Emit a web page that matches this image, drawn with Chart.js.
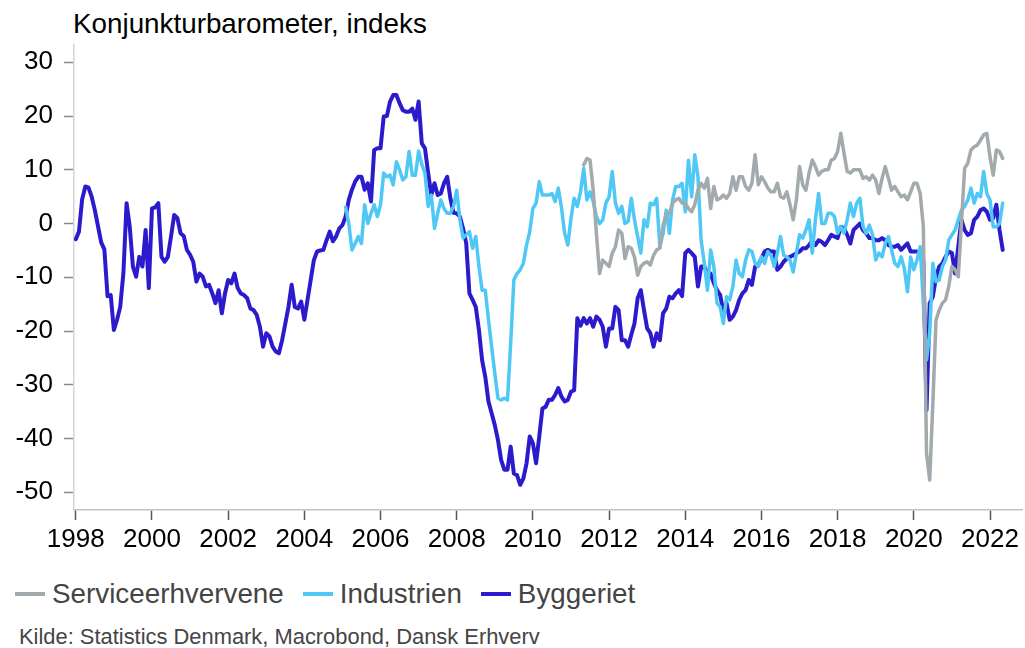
<!DOCTYPE html>
<html>
<head>
<meta charset="utf-8">
<script src="https://cdn.jsdelivr.net/npm/chart.js@4"></script>
<style>
  html, body { margin: 0; padding: 0; background: #fff; }
  body { width: 1025px; height: 648px; position: relative; overflow: hidden; font-family: "Liberation Sans", Arial, sans-serif; }
  #chartBox { position: absolute; left: 0; top: 0; width: 1025px; height: 560px; }
  #title { position: absolute; left: 73px; top: 10px; font-size: 27.8px; line-height: 1; color: #000; white-space: nowrap; }
  #legend { position: absolute; left: 15px; top: 580px; display: flex; align-items: center; font-size: 27.8px; line-height: 1; color: #444; white-space: nowrap; }
  .item { display: flex; align-items: center; margin-right: 19px; }
  .swatch { width: 30px; height: 4px; margin-right: 7px; }
  #source { position: absolute; left: 19px; top: 626px; font-size: 21.9px; line-height: 1; color: #444; white-space: nowrap; }
</style>
</head>
<body>
<div id="title">Konjunkturbarometer, indeks</div>
<div id="chartBox"><canvas id="barometer" width="1025" height="560"></canvas></div>
<div id="legend"></div>
<div id="source">Kilde: Statistics Denmark, Macrobond, Dansk Erhverv</div>

<script>
// monthly series, first value = first month given by the *Start index (months after Jan 1998)
const startYear = 1998;
const seriesNames = ["Serviceerhvervene", "Industrien", "Byggeriet"];
const seriesColors = ["#a3aaad", "#4fc8f5", "#2b1bcc"];

const serviceStart = 160; // May 2011
const serviceValues = [
    10.9, 12.1, 11.8, 6.2, -1.8, -9.3, -6.8, -7.4,
    -8.0, -5.5, -4.3, -1.2, -1.8, -6.5, -4.3, -4.6, -6.2, -9.6, -8.0, -7.4,
    -7.1, -7.7, -5.9, -4.9, -4.6, -0.3, 1.6, 1.9, 3.8, 4.4, 4.7, 3.8,
    3.8, 2.8, 2.2, 3.5, 6.2, 7.5, 6.6, 8.4, 2.8, 6.9, 4.4, 4.7,
    5.3, 4.7, 5.6, 8.7, 6.2, 8.7, 8.7, 6.9, 6.2, 7.5, 12.8, 7.2,
    8.7, 7.8, 6.6, 5.9, 5.9, 7.5, 5.0, 4.7, 5.9, 3.5, 0.7, 4.4,
    10.6, 7.2, 6.2, 9.4, 11.8, 10.6, 9.0, 9.7, 10.0, 10.0, 11.8, 12.1,
    13.4, 16.8, 13.1, 9.7, 9.4, 10.0, 10.0, 10.0, 8.4, 8.7, 8.1, 9.0,
    8.1, 5.6, 8.4, 10.6, 8.4, 6.2, 6.9, 5.9, 5.0, 5.3, 4.4, 5.9,
    7.5, 7.5, 5.6, -0.6, -42.7, -47.7, -33.4, -17.9, -16.1, -14.8, -14.2, -11.7,
    -8.0, -8.6, -9.9, 0.0, 10.3, 11.2, 13.7, 14.3, 14.6, 15.5, 16.5, 16.8,
    12.4, 9.0, 13.7, 13.4, 12.1
];

const industryStart = 85; // Feb 2005
const industryValues = [
    3.1, 0.0, -4.9, -3.7, -2.4, -3.7, 3.5, 0.0, 1.9, 3.5, 1.3,
    3.5, 9.4, 8.7, 9.0, 7.2, 11.5, 10.0, 8.1, 8.7, 13.4, 9.0, 9.0,
    13.5, 11.0, 9.4, 3.2, 5.3, -0.9, 1.9, 4.4, 2.8, 1.9, 1.9, 3.2,
    6.2, 0.7, -2.7, -2.1, -1.5, -4.6, -2.4, -8.0, -12.4, -12.4, -17.9, -22.9,
    -27.9, -32.5, -32.8, -32.5, -32.8, -22.3, -10.5, -9.3, -8.6, -7.4, -4.0, -1.5,
    2.8, 3.8, 7.8, 5.3, 5.3, 5.3, 5.6, 4.1, 6.6, 3.0, -1.8, -4.0,
    1.0, 4.7, 3.2, 5.9, 10.3, 4.4, 5.9, 4.1, 1.3, 0.0, 0.7, 3.8,
    5.0, 9.7, 3.8, 1.9, 3.2, 0.0, 0.4, 4.7, 0.7, -2.4, -5.5, 0.7,
    -0.6, 3.8, 3.5, 4.7, -4.3, -1.8, 2.5, -1.8, 4.4, 6.9, 6.9, 7.5,
    2.2, 11.8, 5.0, 12.8, 8.7, -3.1, -7.4, -12.4, -4.9, -8.0, -14.8, -15.5,
    -18.6, -13.6, -14.2, -11.7, -6.8, -9.3, -9.9, -6.8, -4.9, -5.2, -7.4, -8.0,
    -6.2, -7.4, -5.2, -5.9, -8.0, -5.5, -2.4, -5.9, -6.2, -6.8, -9.0, -5.5,
    -2.1, -2.7, -1.2, 0.7, -5.5, 0.7, 5.6, 0.0, 0.0, 1.9, 1.9, 1.3,
    -1.8, -0.6, -1.8, 0.7, 3.8, 1.3, 3.8, 4.7, -0.6, -1.8, -0.3, -2.1,
    -6.8, -5.5, -6.2, -3.7, -2.4, -4.9, -7.4, -8.0, -6.2, -8.3, -12.7, -6.2,
    -8.6, -6.8, -4.3, -14.8, -25.4, -20.4, -7.4, -10.8, -10.5, -8.0, -6.8, -3.1,
    -2.1, -1.2, 0.7, 2.5, 3.2, 4.4, 6.6, 3.8, 5.6, 5.0, 9.7, 5.6,
    4.4, -0.6, -0.6, 0.0, 3.8
];

const constructionStart = 0; // Jan 1998
const constructionValues = [
    -2.9, -1.5, 4.5, 6.9, 6.7, 5.0, 2.5, -0.5, -3.5, -4.8, -13.5, -13.3,
    -19.8, -17.9, -15.5, -9.2, 3.8, -0.6, -8.0, -9.9, -6.2, -8.0, -1.2, -12.0,
    2.8, 3.0, 3.8, -6.2, -7.1, -6.2, -2.4, 1.6, 1.0, -1.8, -2.3, -4.9,
    -5.8, -7.1, -10.8, -9.3, -9.9, -11.7, -11.4, -13.0, -14.8, -12.4, -16.7, -13.0,
    -10.5, -11.1, -9.3, -12.0, -13.0, -13.3, -13.9, -15.8, -16.1, -17.0, -19.2, -22.9,
    -20.4, -21.0, -22.9, -23.8, -24.1, -21.7, -18.6, -15.5, -11.4, -15.5, -15.8, -14.5,
    -17.9, -14.2, -10.5, -6.8, -5.2, -5.0, -4.9, -3.1, -1.5, -3.3, -2.4, -0.9,
    -0.3, 1.3, 4.4, 6.3, 7.8, 8.7, 8.7, 6.3, 7.5, 4.1, 13.7, 14.0,
    14.0, 19.9, 20.0, 22.7, 23.9, 23.9, 22.4, 21.1, 20.8, 20.8, 21.4, 19.3,
    22.7, 14.9, 14.0, 9.4, 5.3, 7.5, 5.3, 5.6, 7.5, 8.7, 4.7, 2.0,
    1.9, 1.3, -0.9, -3.7, -13.0, -14.2, -15.5, -19.8, -25.4, -28.5, -33.1, -35.3,
    -37.5, -40.3, -44.0, -45.8, -45.8, -41.5, -46.5, -46.8, -48.6, -47.4, -44.6, -39.6,
    -40.9, -44.6, -39.6, -34.4, -34.1, -32.8, -32.8, -31.9, -30.6, -32.2, -33.1, -32.8,
    -31.3, -31.0, -17.6, -19.0, -17.6, -18.6, -17.6, -19.2, -17.3, -17.9, -19.2, -22.9,
    -19.5, -19.5, -15.5, -16.1, -21.7, -21.7, -22.9, -20.7, -18.6, -13.9, -12.4, -16.1,
    -19.5, -20.4, -22.9, -20.4, -21.7, -16.7, -15.8, -13.6, -13.9, -13.0, -12.4, -13.5,
    -5.5, -4.9, -5.5, -6.2, -11.7, -8.0, -8.0, -9.3, -9.3, -11.1, -12.4, -13.3,
    -16.4, -14.8, -17.9, -17.3, -16.1, -14.2, -13.0, -12.4, -10.5, -11.4, -8.0, -7.7,
    -6.5, -5.2, -4.9, -5.2, -5.2, -8.6, -8.0, -7.1, -6.5, -6.2, -5.9, -5.5,
    -5.2, -4.6, -4.6, -4.0, -3.1, -4.0, -3.1, -3.4, -4.0, -3.1, -2.1, -2.4,
    -2.7, -0.6, -0.9, -2.1, -3.7, -1.2, -0.6, 0.0, -1.2, -1.8, -2.7, -2.7,
    -3.1, -3.1, -2.7, -3.1, -4.0, -4.3, -4.3, -4.0, -4.9, -4.3, -3.7, -5.2,
    -5.2, -5.2, -5.5, -6.8, -34.7, -14.8, -13.6, -9.9, -8.0, -7.4, -6.2, -5.2,
    -5.5, -9.3, -4.3, 0.7, -1.2, -2.1, -1.8, 0.7, 1.3, 2.5, 2.8, 2.2,
    0.7, 1.0, 3.5, -1.2, -4.9
];

const xTicks = [1998, 2000, 2002, 2004, 2006, 2008, 2010, 2012, 2014, 2016, 2018, 2020, 2022];
const yTicks = [30, 20, 10, 0, -10, -20, -30, -40, -50];

// turn a monthly list into {x: decimal year, y}
function toPoints(startMonth, values) {
    return values.map((v, i) => ({ x: startYear + (startMonth + i) / 12, y: v }));
}

const tickFont = { family: "Liberation Sans", size: 26 };

new Chart("barometer", {
    type: "line",
    data: {
        datasets: [
            { label: seriesNames[0], data: toPoints(serviceStart, serviceValues), borderColor: seriesColors[0], borderWidth: 3.5 },
            { label: seriesNames[1], data: toPoints(industryStart, industryValues), borderColor: seriesColors[1], borderWidth: 3.5 },
            { label: seriesNames[2], data: toPoints(constructionStart, constructionValues), borderColor: seriesColors[2], borderWidth: 4 }
        ]
    },
    options: {
        responsive: false,
        animation: false,
        devicePixelRatio: 1,
        elements: {
            point: { radius: 0 },
            line: { tension: 0, borderJoinStyle: "round", borderCapStyle: "round", fill: false }
        },
        layout: { padding: { top: 45, right: 3, bottom: 0, left: 0 } },
        plugins: {
            legend: { display: false },
            tooltip: { enabled: false }
        },
        scales: {
            x: {
                type: "linear",
                min: 1997.953,
                max: 2022.84,
                afterBuildTicks: scale => { scale.ticks = xTicks.map(v => ({ value: v })); },
                afterFit: scale => { scale.height = 50; },
                grid: { display: true, drawOnChartArea: false, drawTicks: true, tickLength: 10, tickColor: "#555", tickWidth: 1.5 },
                border: { display: true, color: "#c4c4c4", width: 1.5 },
                ticks: { autoSkip: false, maxRotation: 0, padding: 4, color: "#000", font: tickFont, callback: v => String(v) }
            },
            y: {
                min: -53.29,
                max: 33.22,
                afterBuildTicks: scale => { scale.ticks = yTicks.map(v => ({ value: v })); },
                afterFit: scale => { scale.width = 74; },
                grid: { display: true, drawOnChartArea: false, drawTicks: true, tickLength: 10, tickColor: "#888", tickWidth: 1.5 },
                border: { display: true, color: "#d4d4d4", width: 1.5 },
                ticks: { padding: 11, color: "#000", font: tickFont, callback: v => String(v) }
            }
        }
    }
});

// html legend
const legendBox = document.getElementById("legend");
seriesNames.forEach((name, i) => {
    const item = document.createElement("div");
    item.className = "item";
    item.innerHTML = '<span class="swatch" style="background:' + seriesColors[i] + '"></span><span>' + name + '</span>';
    legendBox.appendChild(item);
});
</script>
</body>
</html>
